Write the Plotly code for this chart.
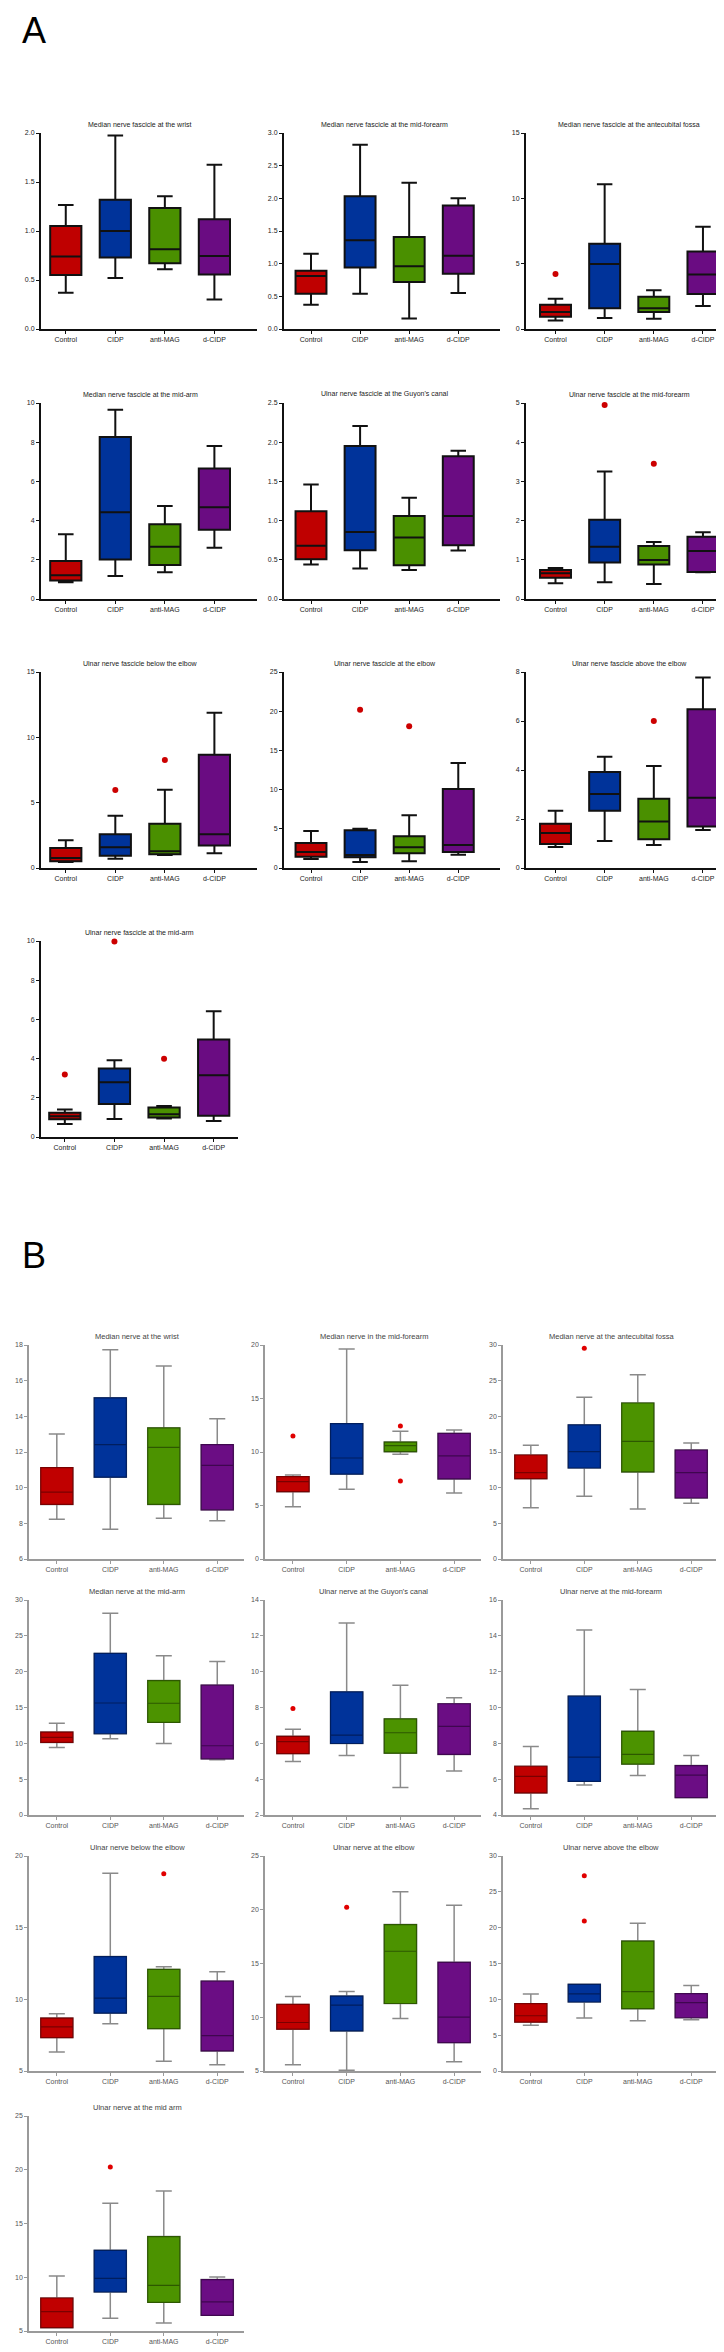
import plotly.graph_objects as go
import numpy as np

GROUPS = ["Control", "CIDP", "anti-MAG", "d-CIDP"]

# ---------------- Section A ----------------
A_TITLES = [
    "Median nerve fascicle at the wrist",
    "Median nerve fascicle at the mid-forearm",
    "Median nerve fascicle at the antecubital fossa",
    "Median nerve fascicle at the mid-arm",
    "Ulnar nerve fascicle at the Guyon's canal",
    "Ulnar nerve fascicle at the mid-forearm",
    "Ulnar nerve fascicle below the elbow",
    "Ulnar nerve fascicle at the elbow",
    "Ulnar nerve fascicle above the elbow",
    "Ulnar nerve fascicle at the mid-arm",
]
A_YMIN = [0, 0, 0, 0, 0, 0, 0, 0, 0, 0]
A_YMAX = [2.0, 3.0, 15, 10, 2.5, 5, 15, 25, 8, 10]
A_YSTEP = [0.5, 0.5, 5, 2, 0.5, 1, 5, 5, 2, 2]

A_LOWER = [
    [0.37, 0.52, 0.61, 0.30],
    [0.37, 0.54, 0.16, 0.55],
    [0.65, 0.85, 0.78, 1.76],
    [0.86, 1.17, 1.36, 2.61],
    [0.44, 0.39, 0.37, 0.62],
    [0.40, 0.43, 0.38, 0.68],
    [0.46, 0.71, 0.99, 1.12],
    [1.15, 0.77, 0.85, 1.70],
    [0.86, 1.10, 0.94, 1.55],
    [0.66, 0.92, 0.95, 0.82],
]
A_Q1 = [
    [0.55, 0.73, 0.67, 0.555],
    [0.54, 0.94, 0.72, 0.845],
    [0.94, 1.58, 1.30, 2.68],
    [0.95, 2.01, 1.74, 3.53],
    [0.507, 0.622, 0.43, 0.686],
    [0.545, 0.93, 0.877, 0.69],
    [0.51, 0.94, 1.05, 1.73],
    [1.45, 1.36, 1.87, 2.04],
    [0.98, 2.34, 1.17, 1.69],
    [0.90, 1.69, 0.99, 1.09],
]
A_MED = [
    [0.74, 1.00, 0.815, 0.745],
    [0.81, 1.36, 0.96, 1.12],
    [1.30, 4.97, 1.58, 4.18],
    [1.21, 4.43, 2.67, 4.68],
    [0.68, 0.856, 0.784, 1.06],
    [0.656, 1.33, 0.997, 1.227],
    [0.77, 1.58, 1.28, 2.58],
    [2.04, 1.66, 2.64, 2.93],
    [1.43, 3.02, 1.90, 2.87],
    [1.06, 2.79, 1.16, 3.15],
]
A_Q3 = [
    [1.05, 1.32, 1.235, 1.12],
    [0.89, 2.03, 1.41, 1.89],
    [1.86, 6.53, 2.47, 5.94],
    [1.94, 8.26, 3.82, 6.66],
    [1.12, 1.95, 1.06, 1.82],
    [0.74, 2.02, 1.354, 1.59],
    [1.53, 2.58, 3.39, 8.67],
    [3.19, 4.80, 4.04, 10.08],
    [1.81, 3.92, 2.83, 6.48],
    [1.24, 3.49, 1.50, 4.97],
]
A_UPPER = [
    [1.265, 1.975, 1.355, 1.675],
    [1.15, 2.82, 2.24, 2.00],
    [2.32, 11.07, 2.96, 7.83],
    [3.30, 9.66, 4.75, 7.80],
    [1.46, 2.206, 1.29, 1.89],
    [0.79, 3.25, 1.457, 1.70],
    [2.12, 4.00, 5.99, 11.89],
    [4.72, 5.02, 6.72, 13.39],
    [2.34, 4.54, 4.16, 7.78],
    [1.40, 3.92, 1.58, 6.42],
]
A_OUT_PANEL = [2, 5, 5, 6, 6, 7, 7, 8, 9, 9, 9]
A_OUT_GROUP = [0, 1, 2, 1, 2, 1, 2, 2, 0, 1, 2]
A_OUT_VALUE = [4.21, 4.95, 3.45, 5.97, 8.27, 20.2, 18.07, 6.0, 3.19, 9.97, 3.99]

# ---------------- Section B ----------------
B_TITLES = [
    "Median nerve at the wrist",
    "Median nerve in the mid-forearm",
    "Median nerve at the antecubital fossa",
    "Median nerve at the mid-arm",
    "Ulnar nerve at the Guyon's canal",
    "Ulnar nerve at the mid-forearm",
    "Ulnar nerve below the elbow",
    "Ulnar nerve at the elbow",
    "Ulnar nerve above the elbow",
    "Ulnar nerve at the mid arm",
]
B_YMIN = [6, 0, 0, 0, 2, 4, 5, 5, 0, 5]
B_YMAX = [18, 20, 30, 30, 14, 16, 20, 25, 30, 25]
B_YSTEP = [2, 5, 5, 5, 2, 2, 5, 5, 5, 5]

B_LOWER = [
    [8.23, 7.67, 8.29, 8.14],
    [4.89, 6.51, 9.78, 6.17],
    [7.20, 8.79, 7.01, 7.80],
    [9.43, 10.64, 9.99, 7.70],
    [4.99, 5.32, 3.53, 4.46],
    [4.35, 5.68, 6.20, 4.97],
    [6.33, 8.29, 5.68, 5.44],
    [5.59, 5.06, 9.88, 5.87],
    [6.40, 7.38, 7.01, 7.15],
    [5.31, 6.18, 5.74, 6.46],
]
B_Q1 = [
    [9.06, 10.59, 9.06, 8.76],
    [6.29, 7.94, 10.03, 7.48],
    [11.26, 12.76, 12.20, 8.55],
    [10.13, 11.34, 12.93, 7.84],
    [5.43, 5.99, 5.45, 5.38],
    [5.23, 5.88, 6.84, 4.97],
    [7.33, 9.04, 7.96, 6.40],
    [8.89, 8.73, 11.28, 7.64],
    [6.82, 9.63, 8.69, 7.43],
    [5.31, 8.63, 7.67, 6.46],
]
B_MED = [
    [9.75, 12.41, 12.26, 11.25],
    [7.23, 9.44, 10.59, 9.63],
    [12.10, 15.05, 16.50, 12.10],
    [10.83, 15.63, 15.59, 9.66],
    [6.09, 6.46, 6.59, 6.95],
    [6.16, 7.23, 7.38, 6.22],
    [8.08, 10.09, 10.20, 7.47],
    [9.51, 11.13, 16.14, 10.01],
    [7.71, 10.75, 11.07, 9.53],
    [6.80, 9.90, 9.25, 7.70],
]
B_Q3 = [
    [11.12, 15.04, 13.35, 12.41],
    [7.69, 12.65, 10.93, 11.74],
    [14.58, 18.79, 21.87, 15.28],
    [11.57, 22.54, 18.76, 18.11],
    [6.39, 8.87, 7.36, 8.21],
    [6.72, 10.63, 8.67, 6.76],
    [8.69, 12.98, 12.09, 11.27],
    [11.19, 11.97, 18.62, 15.11],
    [9.39, 12.10, 18.13, 10.79],
    [8.07, 12.50, 13.78, 9.78],
]
B_UPPER = [
    [13.01, 17.74, 16.82, 13.86],
    [7.85, 19.63, 11.93, 12.06],
    [15.93, 22.66, 25.84, 16.26],
    [12.79, 28.14, 22.21, 21.42],
    [6.78, 12.71, 9.24, 8.55],
    [7.83, 14.32, 11.00, 7.32],
    [8.99, 18.79, 12.28, 11.93],
    [11.94, 12.40, 21.67, 20.43],
    [10.75, 12.10, 20.61, 11.92],
    [10.12, 16.88, 18.02, 10.02],
]
B_OUT_PANEL = [1, 1, 1, 2, 4, 6, 7, 8, 8, 9]
B_OUT_GROUP = [0, 2, 2, 1, 0, 2, 1, 1, 1, 1]
B_OUT_VALUE = [11.50, 12.43, 7.29, 29.53, 7.95, 18.76, 20.24, 27.24, 20.93, 20.26]

# ---------------- styling / layout ----------------
W, H = 724, 2352
FONT = "Liberation Sans, Arial, sans-serif"
A_FILL = ["#BF0000", "#00339A", "#4A9000", "#6A0C82"]
B_FILL = ["#C00000", "#00339A", "#4C9300", "#6B0D84"]
B_EDGE = ["#7A0000", "#001E5E", "#2D5800", "#3F074F"]

A_COLS_X = [(33, 249), (276, 492), (518, 722)]
A_COLS_R = [(-0.5, 3.86), (-0.55, 3.85), (-0.6, 3.55)]
A_ROWS_Y = [(125, 321), (395, 591), (664, 860), (933, 1129)]
B_COLS_X = [(21, 236), (257, 473), (495, 710)]
B_ROWS_Y = [(1337, 1551), (1592, 1807), (1848, 2063), (2108, 2323)]
B_RANGE = (-0.52, 3.5)

fig = go.Figure()
layout = dict(width=W, height=H, margin=dict(l=0, r=0, t=0, b=0),
              paper_bgcolor="white", plot_bgcolor="white",
              showlegend=False, template="none", annotations=[])


def fmt_ticks(ymin, ymax, step):
    vals = np.arange(ymin, ymax + step * 0.5, step)
    if step < 1:
        txt = ["%.1f" % v for v in vals]
    else:
        txt = ["%d" % round(v) for v in vals]
    return list(vals), txt


def add_panel(idx, sec, title, xpx, ypx, xr, ymin, ymax, ystep,
              low, q1, med, q3, up, outs):
    xa = "x" if idx == 1 else "x%d" % idx
    ya = "y" if idx == 1 else "y%d" % idx
    xkey = "xaxis" if idx == 1 else "xaxis%d" % idx
    ykey = "yaxis" if idx == 1 else "yaxis%d" % idx
    if sec == "A":
        lc, lw, tcol, fs = "#111111", 2, "#222222", 7
    else:
        lc, lw, tcol, fs = "#9a9a9a", 1.5, "#555555", 7
    for g in range(4):
        if sec == "A":
            fig.add_trace(go.Box(
                x=[GROUPS[g]], q1=[q1[g]], median=[med[g]], q3=[q3[g]],
                lowerfence=[low[g]], upperfence=[up[g]],
                xaxis=xa, yaxis=ya, fillcolor=A_FILL[g],
                line=dict(color="#111111", width=2), width=0.63,
                whiskerwidth=0.5, boxpoints=False, hoverinfo="skip"))
        else:
            fig.add_trace(go.Box(
                x=[GROUPS[g]], q1=[q1[g]], median=[med[g]], q3=[q3[g]],
                lowerfence=[low[g]], upperfence=[up[g]],
                xaxis=xa, yaxis=ya, fillcolor=B_FILL[g],
                line=dict(color="#8a8a8a", width=1.5), width=0.6,
                whiskerwidth=0.5, boxpoints=False, hoverinfo="skip"))
            fig.add_trace(go.Box(
                x=[GROUPS[g]], q1=[q1[g]], median=[med[g]], q3=[q3[g]],
                lowerfence=[q1[g]], upperfence=[q3[g]],
                xaxis=xa, yaxis=ya, fillcolor=B_FILL[g],
                line=dict(color=B_EDGE[g], width=1.2), width=0.6,
                whiskerwidth=0, boxpoints=False, hoverinfo="skip"))
    if outs:
        fig.add_trace(go.Scatter(
            x=[GROUPS[g] for g, v in outs], y=[v for g, v in outs],
            mode="markers", xaxis=xa, yaxis=ya, cliponaxis=False,
            marker=dict(color="#CC0000" if sec == "A" else "#E00000",
                        size=6 if sec == "A" else 5, symbol="circle"),
            hoverinfo="skip"))
    tv, tt = fmt_ticks(ymin, ymax, ystep)
    layout[xkey] = dict(
        domain=[xpx[0] / W, xpx[1] / W], anchor=ya, type="category",
        categoryorder="array", categoryarray=GROUPS, range=list(xr),
        showline=True, linecolor=lc, linewidth=lw, ticks="outside",
        ticklen=3, tickwidth=1, tickcolor=lc, showgrid=False, zeroline=False,
        tickfont=dict(family=FONT, size=fs, color=tcol), fixedrange=True)
    layout[ykey] = dict(
        domain=[1 - ypx[1] / H, 1 - ypx[0] / H], anchor=xa,
        range=[ymin, ymax], tickvals=tv, ticktext=tt,
        showline=True, linecolor=lc, linewidth=lw, ticks="outside",
        ticklen=3, tickwidth=1, tickcolor=lc, showgrid=False, zeroline=False,
        tickfont=dict(family=FONT, size=fs, color=tcol), fixedrange=True)
    cx = xpx[0] + (1.5 - xr[0]) / (xr[1] - xr[0]) * (xpx[1] - xpx[0])
    layout["annotations"].append(dict(
        text=title, xref="paper", yref="paper", x=cx / W,
        y=1 - (ypx[0] - 8.5) / H, xanchor="center", yanchor="middle",
        showarrow=False, font=dict(family=FONT, size=7 if sec == "A" else 7.5,
                                   color="#222222" if sec == "A" else "#444444")))


idx = 1
for p in range(10):
    r, c = divmod(p, 3)
    if r == 3:
        xpx, xr = (33, 229.5), (-0.48, 3.48)
    else:
        xpx, xr = A_COLS_X[c], A_COLS_R[c]
    outs = [(A_OUT_GROUP[k], A_OUT_VALUE[k]) for k in range(len(A_OUT_PANEL)) if A_OUT_PANEL[k] == p]
    add_panel(idx, "A", A_TITLES[p], xpx, A_ROWS_Y[r], xr, A_YMIN[p], A_YMAX[p], A_YSTEP[p],
              A_LOWER[p], A_Q1[p], A_MED[p], A_Q3[p], A_UPPER[p], outs)
    idx += 1

for p in range(10):
    r, c = divmod(p, 3)
    outs = [(B_OUT_GROUP[k], B_OUT_VALUE[k]) for k in range(len(B_OUT_PANEL)) if B_OUT_PANEL[k] == p]
    add_panel(idx, "B", B_TITLES[p], B_COLS_X[c], B_ROWS_Y[r], B_RANGE, B_YMIN[p], B_YMAX[p], B_YSTEP[p],
              B_LOWER[p], B_Q1[p], B_MED[p], B_Q3[p], B_UPPER[p], outs)
    idx += 1

layout["annotations"].append(dict(text="A", xref="paper", yref="paper", x=12 / W, y=1.0,
                                  xanchor="left", yanchor="top", showarrow=False,
                                  font=dict(family=FONT, size=36, color="black")))
layout["annotations"].append(dict(text="B", xref="paper", yref="paper", x=12 / W, y=1 - 1247 / H,
                                  xanchor="left", yanchor="middle", showarrow=False,
                                  font=dict(family=FONT, size=36, color="black")))

fig.update_layout(**layout)
fig.write_html("out.html")
